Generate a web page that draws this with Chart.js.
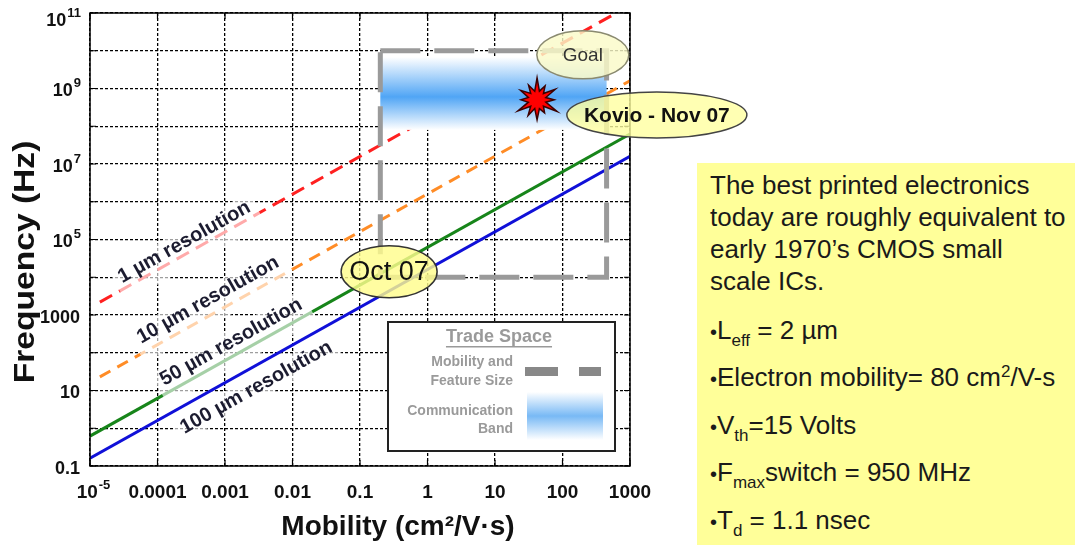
<!DOCTYPE html>
<html><head><meta charset="utf-8">
<script src="https://cdn.jsdelivr.net/npm/chart.js@4.4.0/dist/chart.umd.min.js"></script>
<style>
html,body{margin:0;padding:0;background:#fff;overflow:hidden;}
#wrap{position:relative;width:1075px;height:545px;}
canvas{position:absolute;left:0;top:0;}
#note{position:absolute;left:697px;top:163px;width:378px;height:382px;background:#ffff99;font-family:"Liberation Sans",Arial,sans-serif;font-size:26px;color:#1a1a1a;}
#note div{position:absolute;left:13px;white-space:nowrap;line-height:32px;}
#note sub{font-size:17px;vertical-align:-7px;line-height:0;}
#note sup{font-size:17px;vertical-align:9px;line-height:0;}
#note .b{font-size:20px;}
</style></head>
<body><div id="wrap"><canvas id="c" width="1075" height="545"></canvas>
<div id="note">
<div style="top:6px">The best printed electronics</div>
<div style="top:38px">today are roughly equivalent to</div>
<div style="top:70px">early 1970’s CMOS small</div>
<div style="top:102px">scale ICs.</div>
<div style="top:151px"><span class="b">•</span>L<sub>eff</sub> = 2 µm</div>
<div style="top:198px"><span class="b">•</span>Electron mobility= 80 cm<sup>2</sup>/V-s</div>
<div style="top:246px"><span class="b">•</span>V<sub>th</sub>=15 Volts</div>
<div style="top:293px"><span class="b">•</span>F<sub>max</sub>switch = 950 MHz</div>
<div style="top:341px"><span class="b">•</span>T<sub>d</sub> = 1.1 nsec</div>
</div></div>
<script>
// ---- axes ----
const xTicks = [1e-5, 1e-4, 1e-3, 1e-2, 0.1, 1, 10, 100, 1000];
const xTickLabels = [['10','-5'], ['0.0001'], ['0.001'], ['0.01'], ['0.1'], ['1'], ['10'], ['100'], ['1000']];
const yTicks = [0.1, 1, 10, 100, 1e3, 1e4, 1e5, 1e6, 1e7, 1e8, 1e9, 1e10, 1e11];
const yLabelValues = [0.1, 10, 1000, 1e5, 1e7, 1e9, 1e11];
const yTickLabels = [['0.1'], ['10'], ['1000'], ['10','5'], ['10','7'], ['10','9'], ['10','11']];
const xTitle = 'Mobility (cm²/V·s)';
const yTitle = 'Frequency (Hz)';

// ---- resolution lines (mobility, frequency) ----
const seriesNames = ['1 µm resolution', '10 µm resolution', '50 µm resolution', '100 µm resolution'];
const mobility1um = [1.4e-5, 1000];   const freq1um = [2.2e3, 1.6e11];
const mobility10um = [1.4e-5, 1000];  const freq10um = [23, 1.6e9];
const mobility50um = [1e-5, 1000];    const freq50um = [0.62, 6.2e7];
const mobility100um = [1e-5, 1000];   const freq100um = [0.16, 1.6e7];
// label anchor points (mobility, frequency)
const labelMobility = [2.5e-4, 5.6e-4, 1.23e-3, 2.9e-3];
const labelFreq = [8.5e4, 2.5e3, 190, 12];

// ---- trade space ----
const tradeMobility = [0.2, 450];
const tradeFreq = [1e4, 1e10];
const bandMobility = [0.2, 450];
const bandFreq = [8e7, 6e8, 6.8e9]; // bottom, centre, top
const starMobility = 42, starFreq = 5e8;
const calloutText = ['Goal', 'Kovio - Nov 07', 'Oct 07'];
const calloutMobility = [200, 2500, 0.27];
const calloutFreq = [7.8e9, 2.0e8, 1.4e4];
const legendTitle = 'Trade Space';
const legendItems = [['Mobility and', 'Feature Size'], ['Communication', 'Band']];

const FONT = '"Liberation Sans", Arial, sans-serif';
const pts = (xs, ys) => xs.map((x, i) => ({x, y: ys[i]}));

function supText(ctx, parts, x, y, align, baseFont, supFont) {
  ctx.font = baseFont; const w1 = ctx.measureText(parts[0]).width;
  let w2 = 0;
  if (parts[1]) { ctx.font = supFont; w2 = ctx.measureText(parts[1]).width; }
  const total = w1 + w2;
  let sx = align === 'right' ? x - total : x - total / 2;
  ctx.textAlign = 'left'; ctx.textBaseline = 'middle';
  ctx.font = baseFont; ctx.fillText(parts[0], sx, y);
  if (parts[1]) { ctx.font = supFont; ctx.fillText(parts[1], sx + w1 + 1, y - 8); }
}

function ellipse(ctx, cx, cy, rx, ry, fill, stroke) {
  ctx.beginPath(); ctx.ellipse(cx, cy, rx, ry, 0, 0, Math.PI * 2);
  ctx.fillStyle = fill; ctx.fill(); ctx.lineWidth = 1.5; ctx.strokeStyle = stroke; ctx.stroke();
}

const custom = {
  id: 'custom',
  afterDatasetsDraw(chart) {
    const ctx = chart.ctx, xs = chart.scales.x, ys = chart.scales.y, ca = chart.chartArea;
    const X = v => xs.getPixelForValue(v), Y = v => ys.getPixelForValue(v);
    ctx.save();
    ctx.beginPath(); ctx.rect(ca.left, ca.top, ca.right - ca.left, ca.bottom - ca.top); ctx.clip();
    // rotated labels with fade
    const ang = Math.atan2(Y(1) - Y(10), X(10) - X(1));
    seriesNames.forEach((t, i) => {
      ctx.save();
      ctx.translate(X(labelMobility[i]), Y(labelFreq[i]));
      ctx.rotate(-ang);
      ctx.font = 'bold 20px ' + FONT;
      const w = ctx.measureText(t).width;
      ctx.fillStyle = 'rgba(255,255,255,0.62)';
      ctx.fillRect(-w / 2 - 6, -12, w + 12, i === 3 ? 24 : 36);
      ctx.fillStyle = '#1c1c30'; ctx.textAlign = 'center'; ctx.textBaseline = 'middle';
      ctx.fillText(t, 0, 0);
      ctx.restore();
    });
    // communication band
    const bx0 = X(bandMobility[0]), bx1 = X(bandMobility[1]);
    const by0 = Y(bandFreq[2]), by1 = Y(bandFreq[0]), byc = Y(bandFreq[1]);
    const g = ctx.createLinearGradient(0, by0, 0, by1);
    const f = (byc - by0) / (by1 - by0);
    g.addColorStop(0, 'rgba(255,255,255,1)');
    g.addColorStop(f, 'rgb(80,165,245)');
    g.addColorStop(1, 'rgba(255,255,255,1)');
    ctx.fillStyle = g; ctx.fillRect(bx0, by0, bx1 - bx0, by1 - by0);
    // trade box
    ctx.setLineDash([40, 14]); ctx.lineWidth = 5; ctx.strokeStyle = '#9a9a9a';
    ctx.strokeRect(X(tradeMobility[0]), Y(tradeFreq[1]), X(tradeMobility[1]) - X(tradeMobility[0]), Y(tradeFreq[0]) - Y(tradeFreq[1]));
    ctx.setLineDash([]);
    // legend box
    const lx = ca.right - 242, ly = ca.bottom - 144, lw = 227, lh = 129;
    ctx.fillStyle = '#fff'; ctx.fillRect(lx, ly, lw, lh);
    ctx.lineWidth = 2; ctx.strokeStyle = '#222'; ctx.strokeRect(lx, ly, lw, lh);
    ctx.fillStyle = '#9a9a9a'; ctx.font = 'bold 18px ' + FONT; ctx.textAlign = 'center'; ctx.textBaseline = 'middle';
    ctx.fillText(legendTitle, lx + 111, ly + 15);
    const tw = ctx.measureText(legendTitle).width;
    ctx.fillRect(lx + 111 - tw / 2, ly + 24, tw, 1.5);
    ctx.font = 'bold 14px ' + FONT; ctx.textAlign = 'right';
    ctx.fillText(legendItems[0][0], lx + 125, ly + 40);
    ctx.fillText(legendItems[0][1], lx + 125, ly + 59);
    ctx.fillText(legendItems[1][0], lx + 125, ly + 89);
    ctx.fillText(legendItems[1][1], lx + 125, ly + 107);
    ctx.fillStyle = '#888';
    ctx.fillRect(lx + 137, ly + 45, 33, 9);
    ctx.fillRect(lx + 191, ly + 45, 22, 9);
    const g2 = ctx.createLinearGradient(0, ly + 70, 0, ly + 118);
    g2.addColorStop(0, 'rgba(255,255,255,1)'); g2.addColorStop(0.5, 'rgb(120,185,245)'); g2.addColorStop(1, 'rgba(255,255,255,1)');
    ctx.fillStyle = g2; ctx.fillRect(lx + 139, ly + 70, 76, 48);
    ctx.restore();

    // frame + inner ticks
    ctx.save();
    ctx.strokeStyle = '#000'; ctx.lineWidth = 1.5;
    ctx.strokeRect(ca.left, ca.top, ca.right - ca.left, ca.bottom - ca.top);
    ctx.lineWidth = 1.2; ctx.beginPath();
    xTicks.forEach(v => { const px = X(v); ctx.moveTo(px, ca.bottom); ctx.lineTo(px, ca.bottom - 6); ctx.moveTo(px, ca.top); ctx.lineTo(px, ca.top + 6); });
    yTicks.forEach(v => { const py = Y(v); ctx.moveTo(ca.left, py); ctx.lineTo(ca.left + 6, py); ctx.moveTo(ca.right, py); ctx.lineTo(ca.right - 6, py); });
    ctx.stroke();
    // tick labels
    ctx.fillStyle = '#111';
    xTicks.forEach((v, i) => supText(ctx, xTickLabels[i], X(v) + (i === 0 ? 3 : 0), ca.bottom + 27, 'center', 'bold 19px ' + FONT, 'bold 13px ' + FONT));
    yLabelValues.forEach((v, i) => supText(ctx, yTickLabels[i], ca.left - 10, Y(v) + (i === 6 ? 8 : 3), 'right', 'bold 18px ' + FONT, 'bold 13px ' + FONT));
    // axis titles
    ctx.font = 'bold 28px ' + FONT; ctx.textAlign = 'center'; ctx.textBaseline = 'middle';
    ctx.fillText(xTitle, 398, 527);
    ctx.save(); ctx.translate(26, 262); ctx.rotate(-Math.PI / 2); ctx.scale(1.12, 1);
    ctx.font = 'bold 30px ' + FONT; ctx.fillText(yTitle, 0, 0); ctx.restore();

    // star
    const sx = X(starMobility), sy = Y(starFreq);
    const radii = [22, 16, 21, 17, 23, 15, 20, 18, 22, 16, 19, 17];
    ctx.beginPath();
    radii.forEach((r, k) => {
      const a0 = (k / radii.length) * Math.PI * 2 - Math.PI / 2;
      const a1 = a0 + Math.PI / radii.length;
      const p0x = sx + Math.cos(a0) * r, p0y = sy + Math.sin(a0) * r;
      const p1x = sx + Math.cos(a1) * 9, p1y = sy + Math.sin(a1) * 9;
      if (k === 0) ctx.moveTo(p0x, p0y); else ctx.lineTo(p0x, p0y);
      ctx.lineTo(p1x, p1y);
    });
    ctx.closePath(); ctx.fillStyle = '#ff0000'; ctx.fill(); ctx.lineWidth = 1.5; ctx.strokeStyle = '#3a0000'; ctx.stroke();

    // callouts
    const gx = X(calloutMobility[0]), gy = Y(calloutFreq[0]);
    ellipse(ctx, gx, gy, 46, 24, 'rgba(250,250,200,0.82)', '#8a8a70');
    ctx.fillStyle = '#333'; ctx.font = '19px ' + FONT; ctx.fillText(calloutText[0], gx, gy + 1);
    const kx = X(calloutMobility[1]), ky = Y(calloutFreq[1]);
    ellipse(ctx, kx, ky, 90, 23, 'rgba(255,255,160,0.8)', '#444');
    ctx.fillStyle = '#111'; ctx.font = 'bold 21px ' + FONT; ctx.fillText(calloutText[1], kx, ky + 1);
    const ox = X(calloutMobility[2]), oy = Y(calloutFreq[2]);
    ellipse(ctx, ox, oy, 48, 26, 'rgba(255,252,140,0.82)', '#333');
    ctx.fillStyle = '#111'; ctx.font = '27px ' + FONT; ctx.fillText(calloutText[2], ox, oy + 1);
    ctx.restore();
  }
};

const gridOpts = {color: '#000', lineWidth: 1.3, drawTicks: false};
new Chart(document.getElementById('c').getContext('2d'), {
  type: 'scatter',
  data: {datasets: [
    {label: seriesNames[0], data: pts(mobility1um, freq1um), showLine: true, borderColor: '#ff2020', borderWidth: 3, borderDash: [14, 8], pointRadius: 0},
    {label: seriesNames[1], data: pts(mobility10um, freq10um), showLine: true, borderColor: '#ff8c26', borderWidth: 3, borderDash: [12, 8], pointRadius: 0},
    {label: seriesNames[2], data: pts(mobility50um, freq50um), showLine: true, borderColor: '#17851a', borderWidth: 3, pointRadius: 0},
    {label: seriesNames[3], data: pts(mobility100um, freq100um), showLine: true, borderColor: '#1010d8', borderWidth: 3, pointRadius: 0}
  ]},
  options: {
    responsive: false, animation: false, devicePixelRatio: 1,
    layout: {padding: {left: 0, top: 13, right: 445, bottom: 0}},
    plugins: {legend: {display: false}, tooltip: {enabled: false}},
    scales: {
      x: {type: 'logarithmic', min: 1e-5, max: 1000,
          afterBuildTicks: s => { s.ticks = xTicks.map(v => ({value: v})); },
          afterFit: s => { s.height = 79; },
          ticks: {display: false}, grid: gridOpts, border: {display: false, dash: [3, 2]}},
      y: {type: 'logarithmic', min: 0.1, max: 1e11,
          afterBuildTicks: s => { s.ticks = yTicks.map(v => ({value: v})); },
          afterFit: s => { s.width = 90; },
          ticks: {display: false}, grid: gridOpts, border: {display: false, dash: [3, 2]}}
    }
  },
  plugins: [custom]
});
</script>
</body></html>
